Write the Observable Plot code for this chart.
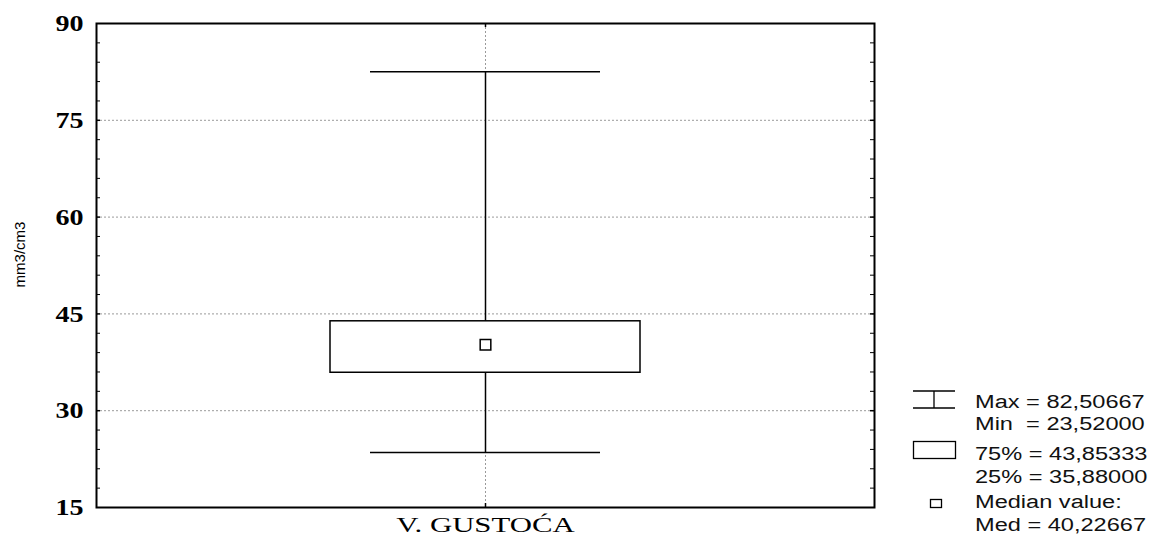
<!DOCTYPE html>
<html>
<head>
<meta charset="utf-8">
<script src="https://cdn.jsdelivr.net/npm/d3@7"></script>
<script src="https://cdn.jsdelivr.net/npm/@observablehq/plot@0.6"></script>
<style>
  html, body { margin: 0; padding: 0; background: #fff; }
  #wrap { position: relative; width: 1152px; height: 537px; overflow: hidden; }
  #legend { position: absolute; left: 0; top: 0; }
</style>
</head>
<body>
<div id="wrap"></div>
<script>
const categories = ["V. GUSTOĆA"];
const maxValues = [82.50667];
const minValues = [23.52];
const q3Values = [43.85333];
const q1Values = [35.88];
const medianValues = [40.22667];
const yTickLabels = [15, 30, 45, 60, 75, 90];
const yGridTicks = [30, 45, 60, 75];
const yMinorTicks = [18, 21, 24, 27, 33, 36, 39, 42, 48, 51, 54, 57, 63, 66, 69, 72, 78, 81, 84, 87];
const yAxisLabel = ["mm3/cm3"];
const legendLines = [
  "Max = 82,50667",
  "Min  = 23,52000",
  "75% = 43,85333",
  "25% = 35,88000",
  "Median value:",
  "Med = 40,22667"
];

const data = categories.map((c, i) => ({
  cat: c, min: minValues[i], max: maxValues[i], q1: q1Values[i], q3: q3Values[i], med: medianValues[i]
}));

const W = 1152, H = 537;
const mL = 96, mR = 278, mT = 23, mB = 30;
const plotW = W - mL - mR, plotH = H - mT - mB;
const gridStyle = {stroke: "#9a9a9a", strokeOpacity: 1, strokeWidth: 1, strokeDasharray: "2,2"};

const chart = Plot.plot({
  width: W, height: H,
  marginLeft: mL, marginRight: mR, marginTop: mT, marginBottom: mB,
  style: {background: "white", color: "black"},
  x: {type: "band", domain: categories, padding: 0.43, axis: null},
  y: {domain: [15, 90], axis: null},
  marks: [
    Plot.gridY(yGridTicks, gridStyle),
    Plot.gridX(categories, gridStyle),
    Plot.ruleX(data, {x: "cat", y1: "min", y2: "max", stroke: "black", strokeWidth: 1.5}),
    Plot.tickY(data, {x: "cat", y: "max", insetLeft: 40, insetRight: 40, stroke: "black", strokeWidth: 1.5}),
    Plot.tickY(data, {x: "cat", y: "min", insetLeft: 40, insetRight: 40, stroke: "black", strokeWidth: 1.5}),
    Plot.barY(data, {x: "cat", y1: "q1", y2: "q3", fill: "white", stroke: "black", strokeWidth: 1.5}),
    Plot.dot(data, {x: "cat", y: "med", symbol: "square", r: 6, fill: "white", stroke: "black", strokeWidth: 1.5}),
    // inward minor ticks left and right
    Plot.tickY(yMinorTicks, {y: d => d, insetRight: plotW - 4, stroke: "black", strokeWidth: 1}),
    Plot.tickY(yMinorTicks, {y: d => d, insetLeft: plotW - 4, stroke: "black", strokeWidth: 1}),
    Plot.tickY(yGridTicks, {y: d => d, insetRight: plotW - 4, stroke: "black", strokeWidth: 1.5}),
    Plot.tickY(yGridTicks, {y: d => d, insetLeft: plotW - 4, stroke: "black", strokeWidth: 1.5}),
    // inward x ticks top and bottom
    Plot.tickX(categories, {x: d => d, insetBottom: plotH - 4, stroke: "black", strokeWidth: 1.5}),
    Plot.tickX(categories, {x: d => d, insetTop: plotH - 4, stroke: "black", strokeWidth: 1.5}),
    Plot.axisY(yTickLabels, {anchor: "left", tickSize: 0, tickPadding: 13, fontSize: 24, fontWeight: "bold",
      fontFamily: "Liberation Serif", label: null}),
    Plot.axisX(categories, {anchor: "bottom", tickSize: 0, tickPadding: 9, fontSize: 22,
      fontFamily: "Liberation Serif", label: null}),
    Plot.text(yAxisLabel, {frameAnchor: "left", textAnchor: "middle", rotate: -90, dx: -76, dy: -11, fontSize: 15,
      fontFamily: "Liberation Sans", fill: "black"}),
    Plot.frame({stroke: "black", strokeWidth: 2})
  ]
});

function stretch(sel, s) {
  chart.querySelectorAll(sel).forEach(t => {
    let tr = t.getAttribute("transform");
    if (!tr) {
      const x = +t.getAttribute("x") || 0, y = +t.getAttribute("y") || 0;
      t.setAttribute("x", 0); t.setAttribute("y", 0);
      tr = `translate(${x},${y})`;
    }
    t.setAttribute("transform", tr + ` scale(${s},1)`);
  });
}
stretch('g[aria-label="y-axis tick label"] text', 1.17);
stretch('g[aria-label="x-axis tick label"] text', 1.4);

const wrap = document.getElementById("wrap");
wrap.appendChild(chart);

// Legend (drawn as an overlay SVG on the right)
const ns = "http://www.w3.org/2000/svg";
const leg = document.createElementNS(ns, "svg");
leg.setAttribute("id", "legend");
leg.setAttribute("width", W);
leg.setAttribute("height", H);
const baselines = [407.5, 430, 459.5, 482.5, 507.5, 530.5];
legendLines.forEach((s, i) => {
  const t = document.createElementNS(ns, "text");
  t.setAttribute("transform", `translate(975,${baselines[i]}) scale(1.31,1)`);
  t.setAttribute("font-family", "Liberation Sans, Arial, sans-serif");
  t.setAttribute("font-size", "18");
  t.setAttribute("fill", "#111");
  t.setAttribute("xml:space", "preserve");
  t.style.whiteSpace = "pre";
  t.textContent = s;
  leg.appendChild(t);
});
function el(tag, attrs) {
  const e = document.createElementNS(ns, tag);
  for (const k in attrs) e.setAttribute(k, attrs[k]);
  e.setAttribute("stroke", "black");
  e.setAttribute("stroke-width", "1.3");
  e.setAttribute("fill", "white");
  leg.appendChild(e);
}
el("line", {x1: 913, x2: 955, y1: 391, y2: 391});
el("line", {x1: 913, x2: 955, y1: 408, y2: 408});
el("line", {x1: 934, x2: 934, y1: 391, y2: 408});
el("rect", {x: 913.5, y: 441.5, width: 42, height: 17});
el("rect", {x: 930.5, y: 499.5, width: 11, height: 8});
wrap.appendChild(leg);
</script>
</body>
</html>
